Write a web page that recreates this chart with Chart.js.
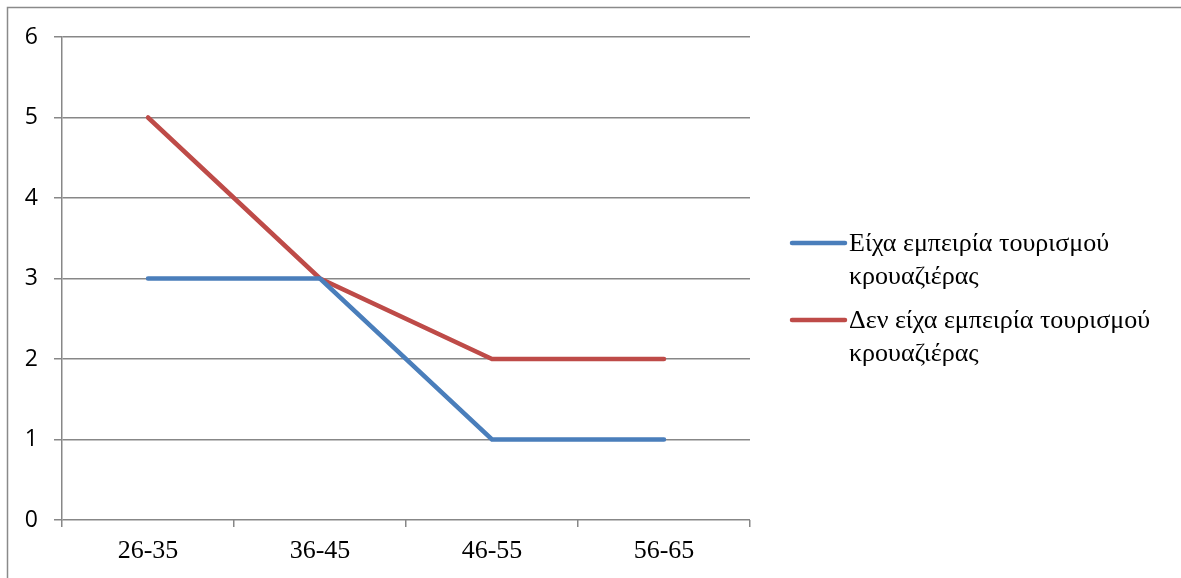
<!DOCTYPE html>
<html><head><meta charset="utf-8">
<script src="https://cdn.jsdelivr.net/npm/chart.js@4/dist/chart.umd.min.js"></script>
<style>html,body{margin:0;padding:0;background:#fff}#wrap{width:1181px;height:578px}</style>
</head><body><div id="wrap"><canvas id="c" width="1181" height="578"></canvas></div>
<script>
const categories = ['26-35','36-45','46-55','56-65'];
const seriesExperienced = [3,3,1,1];
const seriesNotExperienced = [5,3,2,2];
const legendLines = [
  ['Είχα εμπειρία τουρισμού','κρουαζιέρας'],
  ['Δεν είχα εμπειρία τουρισμού','κρουαζιέρας']
];
const gridColor = '#878787';

const framePlugin = {
  id:'frame',
  beforeDraw(chart){
    const ctx = chart.ctx;
    ctx.save();
    ctx.strokeStyle = '#8a8a8a';
    ctx.lineWidth = 1.5;
    ctx.beginPath();
    ctx.moveTo(7.5, 578); ctx.lineTo(7.5, 7.5); ctx.lineTo(1181, 7.5);
    ctx.stroke();
    ctx.restore();
  }
};
const legendPlugin = {
  id:'sideLegend',
  afterDraw(chart){
    const ctx = chart.ctx;
    const ys = [243, 320];
    ctx.save();
    chart.data.datasets.forEach((ds,i)=>{
      const y = ys[i];
      ctx.strokeStyle = ds.borderColor;
      ctx.lineWidth = 4.5;
      ctx.lineCap = 'round';
      ctx.beginPath(); ctx.moveTo(792, y); ctx.lineTo(845, y); ctx.stroke();
      ctx.fillStyle = '#000';
      ctx.font = '26px "Liberation Serif", "Times New Roman", serif';
      ctx.textBaseline = 'middle';
      ctx.textAlign = 'left';
      legendLines[i].forEach((t,j)=> ctx.fillText(t, 849, y + 1 + j*33));
    });
    ctx.restore();
  }
};

new Chart(document.getElementById('c'), {
  type:'line',
  data:{
    labels: categories,
    datasets:[
      {label: legendLines[0].join(' '), data: seriesExperienced, borderColor:'#4A7EBB', backgroundColor:'#4A7EBB', borderWidth:4.5, pointRadius:0, tension:0, borderCapStyle:'round'},
      {label: legendLines[1].join(' '), data: seriesNotExperienced, borderColor:'#BE4B48', backgroundColor:'#BE4B48', borderWidth:4.5, pointRadius:0, tension:0, borderCapStyle:'round'}
    ]
  },
  options:{
    responsive:false,
    animation:false,
    layout:{padding:{left:0, top:37, right:431, bottom:0}},
    plugins:{legend:{display:false}, tooltip:{enabled:false}},
    scales:{
      x:{
        offset:true,
        grid:{offset:true, drawOnChartArea:false, drawTicks:true, tickLength:7, color:gridColor, lineWidth:1.5},
        border:{display:false},
        ticks:{color:'#000', font:{family:'"Liberation Serif", "Times New Roman", serif', size:26}, padding:9},
        afterFit(s){ s.height = 58; }
      },
      y:{
        min:0, max:6,
        grid:{color:gridColor, lineWidth:1.5, tickLength:8},
        border:{display:true, color:gridColor, width:1.5},
        ticks:{stepSize:1, color:'#000', font:{family:'"Open Sans", "Liberation Sans", sans-serif', size:23}, padding:16},
        afterFit(s){ s.width = 62; }
      }
    }
  },
  plugins:[framePlugin, legendPlugin]
});
</script></body></html>
